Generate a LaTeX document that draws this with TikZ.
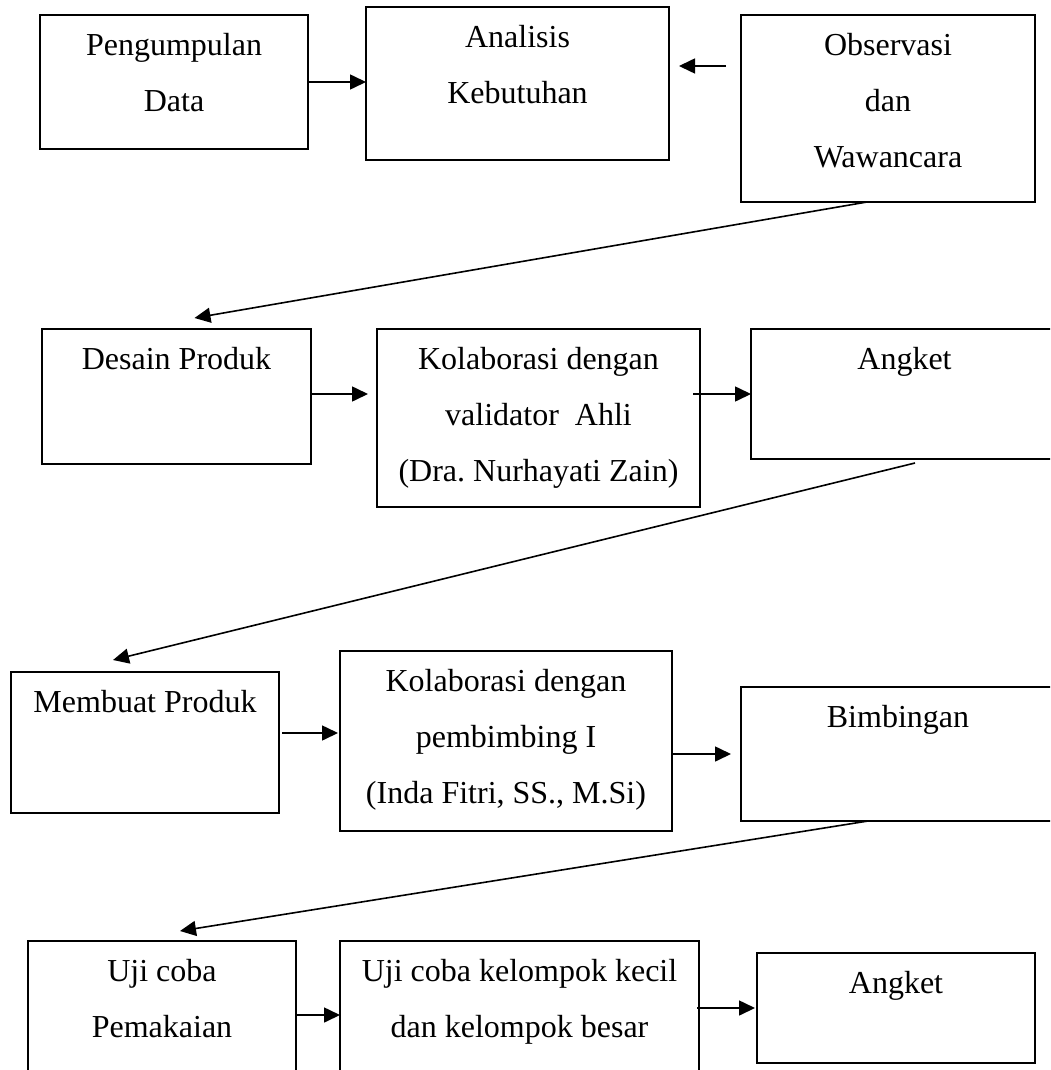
\documentclass[tikz,border=0pt]{standalone}
\usepackage{fontspec}
\setmainfont{Liberation Serif}
\usetikzlibrary{arrows.meta}
\frenchspacing

\begin{document}
\begin{tikzpicture}[> = {Triangle[length = 8pt, width = 7.5pt]}, x = 0.5pt, y = -0.5pt,
	box/.style = {draw, line width = 0.7pt, inner sep = 0pt, outer sep = 0pt},
	txt/.style = {font = \fontsize{16}{28}\selectfont, align = center, inner sep = 0pt, anchor = north},
	arr/.style = {->, line width = 0.8pt}]

	% Page

	\clip (0, 0) rectangle (1050, 1070);
	\fill [white] (0, 0) rectangle (1050, 1070);

	% Row 1: data collection

	\node [box, minimum width = 134pt, minimum height = 67pt] (pd) at (174, 82) {};
	\node [box, minimum width = 151.5pt, minimum height = 76.5pt] (ak) at (517.5, 83.5) {};
	\node [box, minimum width = 147pt, minimum height = 93.5pt] (ow) at (888, 108.5) {};

	\node [txt] (pd-t) at ([yshift = -9pt] pd.north) {Pengumpulan\\Data};
	\node [txt] (ak-t) at ([yshift = -9pt] ak.north) {Analisis\\Kebutuhan};
	\node [txt] (ow-t) at ([yshift = -9pt] ow.north) {Observasi\\dan\\Wawancara};

	% Row 2: design

	\node [box, minimum width = 134.5pt, minimum height = 67.5pt] (dp) at (176.5, 396.5) {};
	\node [box, minimum width = 161.5pt, minimum height = 89pt] (kv) at (538.5, 418) {};
	\node [box, minimum width = 153.5pt, minimum height = 65pt] (an1) at (904.5, 394) {};

	\node [txt] (dp-t) at ([yshift = -9pt] dp.north) {Desain Produk};
	\node [txt] (kv-t) at ([yshift = -9pt] kv.north) {Kolaborasi dengan\\validator~ Ahli\\(Dra. Nurhayati Zain)};
	\node [txt] (an1-t) at ([yshift = -9pt] an1.north) {Angket};

	% Row 3: making the product

	\node [box, minimum width = 134pt, minimum height = 70.5pt] (mp) at (145, 742.5) {};
	\node [box, minimum width = 166pt, minimum height = 90pt] (kp) at (506, 741) {};
	\node [box, minimum width = 157pt, minimum height = 67pt] (bb) at (898, 754) {};

	\node [txt] (mp-t) at ([yshift = -9pt] mp.north) {Membuat Produk};
	\node [txt] (kp-t) at ([yshift = -9pt] kp.north) {Kolaborasi dengan\\pembimbing I\\(Inda Fitri, SS., M.Si)};
	\node [txt] (bb-t) at ([yshift = -9pt] bb.north) {Bimbingan};

	% Row 4: trials

	\node [box, minimum width = 134pt, minimum height = 72pt] (up) at (162, 1013) {};
	\node [box, minimum width = 179.5pt, minimum height = 72pt] (uk) at (519.5, 1013) {};
	\node [box, minimum width = 139pt, minimum height = 55pt] (an2) at (896, 1008) {};

	\node [txt] (up-t) at ([yshift = -9pt] up.north) {Uji coba\\Pemakaian};
	\node [txt] (uk-t) at ([yshift = -9pt] uk.north) {Uji coba kelompok kecil\\dan kelompok besar};
	\node [txt] (an2-t) at ([yshift = -9pt] an2.north) {Angket};

	% Arrows within rows

	\coordinate (ow-in) at ([yshift = 21.25pt] ow.west);
	\coordinate (dp-out) at ([yshift = 1.25pt] dp.east);
	\coordinate (mp-out) at ([yshift = 4.75pt] mp.east);
	\coordinate (up-out) at ([yshift = -37pt] up.north east);

	\draw [arr] (pd.east) -- (pd.east -| ak.west);
	\draw [arr, shorten <= 7.5pt, shorten >= 5pt] (ow-in) -- (ow-in -| ak.east);
	\draw [arr, shorten >= 4.5pt] (dp-out) -- (dp-out -| kv.west);
	\draw [arr, shorten <= -3.5pt] (an1.west -| kv.east) -- (an1.west);
	\draw [arr, shorten <= 1.5pt, shorten >= 1pt] (mp-out) -- (mp-out -| kp.west);
	\draw [arr, shorten >= 5pt] (bb.west -| kp.east) -- (bb.west);
	\draw [arr] (up-out) -- (up-out -| uk.west);
	\draw [arr, shorten <= -1pt, shorten >= 1pt] (an2.west -| uk.east) -- (an2.west);

	% Arrows between rows

	\draw [arr] ([xshift = -10.5pt] ow.south) -- ([xshift = 9pt, yshift = 5.5pt] dp.north);
	\draw [arr] ([xshift = 5.25pt, yshift = -2pt] an1.south) -- ([xshift = -16pt, yshift = 6pt] mp.north);
	\draw [arr] ([xshift = -15pt] bb.south) -- ([xshift = 9pt, yshift = 5pt] up.north);

\end{tikzpicture}
\end{document}
